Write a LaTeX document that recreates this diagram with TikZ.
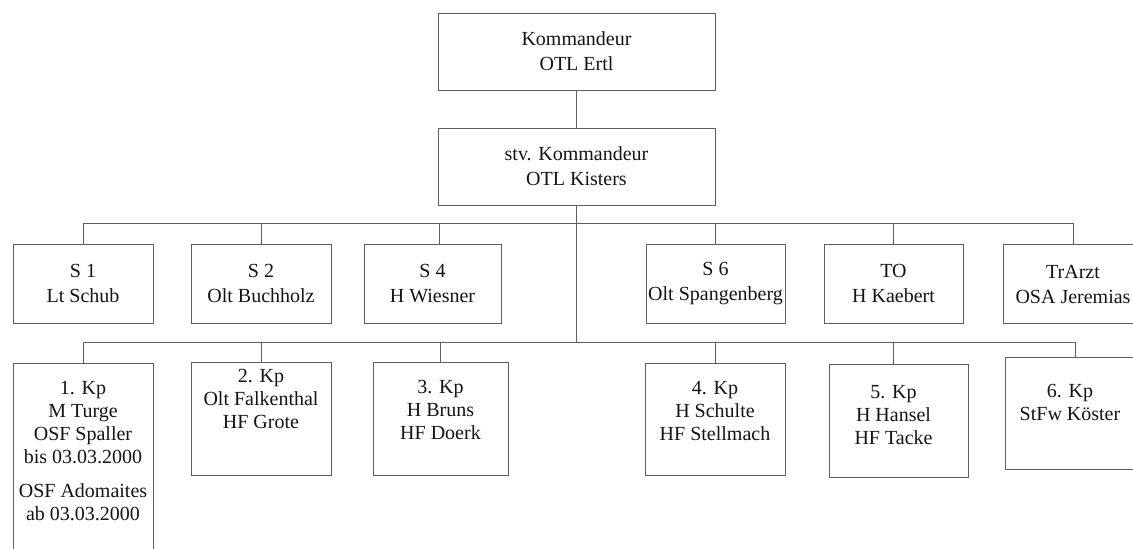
\documentclass[tikz,border=0pt]{standalone}
\usepackage{fontspec}
\setmainfont{Liberation Serif}
\usetikzlibrary{positioning}
\definecolor{cline}{RGB}{95,95,95}
\definecolor{ctext}{RGB}{20,20,20}

\begin{document}
\begin{tikzpicture}[x=1pt,y=-1pt,font=\fontsize{20}{25}\selectfont,
  box/.style={draw=cline,line width=0.9pt,inner sep=0pt,align=center,text=ctext},
  txt/.style={inner sep=0pt,align=center,text=ctext,font=\fontsize{20}{23}\selectfont},
  conn/.style={draw=cline,line width=0.9pt}]
\useasboundingbox (0,0) rectangle (1133,549);
\clip (0,0) rectangle (1133,549);
% ===================== command =====================
\node[box,minimum width=277pt,minimum height=77pt] (komm) at (576.5,51.5) {Kommandeur\\OTL Ertl};
\node[box,minimum width=277pt,minimum height=77pt] (stv) at (576.5,166.5) {stv. Kommandeur\\OTL Kisters};
\coordinate (bar1) at (576.5,223);
\coordinate (bar2) at (576.5,342.5);
% ===================== staff (row 1) =====================
\begin{scope}[every node/.append style={minimum height=79pt}]
  \node[box,minimum width=140pt] (s1) at (83,283.5) {S 1\\Lt Schub};
  \node[box,minimum width=140pt] (s2) at (261,283.5) {S 2\\Olt Buchholz};
  \node[box,minimum width=137pt] (s4) at (432.5,283.5) {S 4\\H Wiesner};
  \node[box,minimum width=139pt] (s6) at (715.5,283.5) {S 6\\Olt Spangenberg};
  \node[box,minimum width=139pt] (to) at (893.5,283.5) {TO\\H Kaebert};
  \node[box,minimum width=140pt] (arzt) at (1073,284) {TrArzt\\OSA Jeremias};
\end{scope}
% ===================== companies (row 2) =====================
\node[box,minimum width=140pt,minimum height=200pt] (kp1) at (83,463) {};
\node[box,minimum width=140pt,minimum height=113pt] (kp2) at (261,418.5) {};
\node[box,minimum width=135pt,minimum height=113pt] (kp3) at (440.5,418.5) {};
\node[box,minimum width=140pt,minimum height=112pt] (kp4) at (715,419) {};
\node[box,minimum width=139pt,minimum height=113pt] (kp5) at (898.5,420.5) {};
\node[box,minimum width=140pt,minimum height=112pt] (kp6) at (1075,413) {};
\node[txt,below=19pt of kp1.north] (kp1txt) {1. Kp\\M Turge\\OSF Spaller\\bis 03.03.2000\\[11pt]OSF Adomaites\\ab 03.03.2000};
\node[txt,below=8pt of kp2.north] (kp2txt) {2. Kp\\Olt Falkenthal\\HF Grote};
\node[txt,below=19pt of kp3.north] (kp3txt) {3. Kp\\H Bruns\\HF Doerk};
\node[txt,below=19pt of kp4.north] (kp4txt) {4. Kp\\H Schulte\\HF Stellmach};
\node[txt,below=22pt of kp5.north,xshift=-5pt] (kp5txt) {5. Kp\\H Hansel\\HF Tacke};
\node[txt,below=28pt of kp6.north,xshift=-5pt] (kp6txt) {6. Kp\\StFw Köster};
% ===================== connectors =====================
\draw[conn] (komm) -- (stv);
\draw[conn] (stv) -- (bar2);
\foreach \n in {s1,s2,s6,to,arzt}{
  \draw[conn] (bar1) -| (\n.north);}
\draw[conn] (bar1) -| ([xshift=7pt]s4.north);
\foreach \n in {kp1,kp2,kp3,kp4,kp6}{
  \draw[conn] (bar2) -| (\n.north);}
\draw[conn] (bar2) -| ([xshift=-5.5pt]kp5.north);
\end{tikzpicture}
\end{document}
